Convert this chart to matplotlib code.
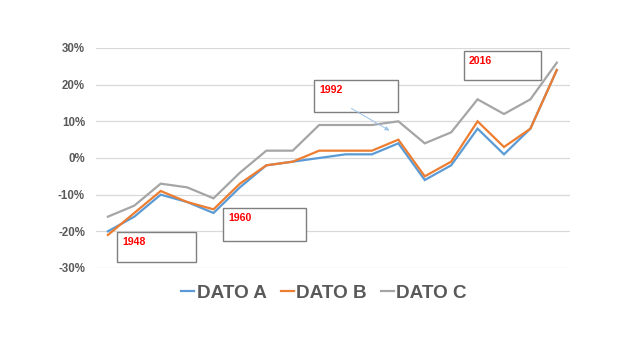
import matplotlib
matplotlib.use("Agg")
import matplotlib.pyplot as plt
from matplotlib.patches import Rectangle, FancyArrowPatch
from matplotlib.ticker import FuncFormatter, MultipleLocator

plt.rcParams['font.family'] = ['Liberation Sans', 'DejaVu Sans']

points = list(range(18))
dato_a = [-20, -16, -10, -12, -15, -8, -2, -1, 0, 1, 1, 4, -6, -2, 8, 1, 8, 24]
dato_b = [-21, -15, -9, -12, -14, -7, -2, -1, 2, 2, 2, 5, -5, -1, 10, 3, 8, 24]
dato_c = [-16, -13, -7, -8, -11, -4, 2, 2, 9, 9, 9, 10, 4, 7, 16, 12, 16, 26]
series_names = ["DATO A", "DATO B", "DATO C"]
colors = ["#5B9BD5", "#ED7D31", "#A5A5A5"]
box_labels = ["1948", "1960", "1992", "2016"]

W, H = 638, 362
fig = plt.figure(figsize=(W / 100, H / 100), dpi=100)

def fx(px):
    return px / W

def fy(py):
    return 1 - py / H

ax = fig.add_axes([fx(96), fy(268), fx(570) - fx(96), fy(48) - fy(268)])
for vals, c, n in zip([dato_a, dato_b, dato_c], colors, series_names):
    ax.plot(points, vals, color=c, lw=1.6, label=n, solid_joinstyle='miter')

ax.set_xlim(-0.45, 17.5)
ax.set_ylim(-30, 30)
ax.yaxis.set_major_locator(MultipleLocator(10))
ax.yaxis.set_major_formatter(FuncFormatter(lambda v, p: f"{int(round(v))}%"))
ax.grid(axis='y', color='#D9D9D9', lw=0.9)
ax.set_axisbelow(True)
ax.set_xticks([])
for s in ax.spines.values():
    s.set_visible(False)
ax.tick_params(axis='y', length=0, pad=8, labelsize=8.3, labelcolor='#595959')
for t in ax.get_yticklabels():
    t.set_fontweight('bold')

# annotation boxes (pixel layout: x0, y0, x1, y1)
boxes = [(117, 232, 196, 262), (223, 208, 306, 241), (314, 80, 398, 112), (464, 51, 541, 80)]
for (x0, y0, x1, y1), lab in zip(boxes, box_labels):
    fig.patches.append(Rectangle((fx(x0), fy(y1)), fx(x1) - fx(x0), fy(y0) - fy(y1),
                                 transform=fig.transFigure, fill=True, facecolor='white',
                                 edgecolor='#7F7F7F', lw=1.0, zorder=5))
    fig.text(fx(x0 + 5), fy(y0 + 5), lab, color='#FF0000', fontsize=7.6,
             fontweight='bold', ha='left', va='top', zorder=6)

arrow = FancyArrowPatch((fx(349), fy(107)), (fx(392), fy(132)), transform=fig.transFigure,
                        arrowstyle='-|>,head_length=2.5,head_width=1.2', color='#9DC3E6',
                        lw=0.7, zorder=6)
fig.patches.append(arrow)

leg = fig.legend(loc='center', bbox_to_anchor=(fx(324), fy(293)), ncol=3, frameon=False,
                 fontsize=13.6, handlelength=0.7, handletextpad=0.12, columnspacing=0.75)
for t in leg.get_texts():
    t.set_color('#595959')
    t.set_fontweight('bold')
for h in leg.get_lines():
    h.set_linewidth(1.6)

fig.savefig("out.png", dpi=100)
